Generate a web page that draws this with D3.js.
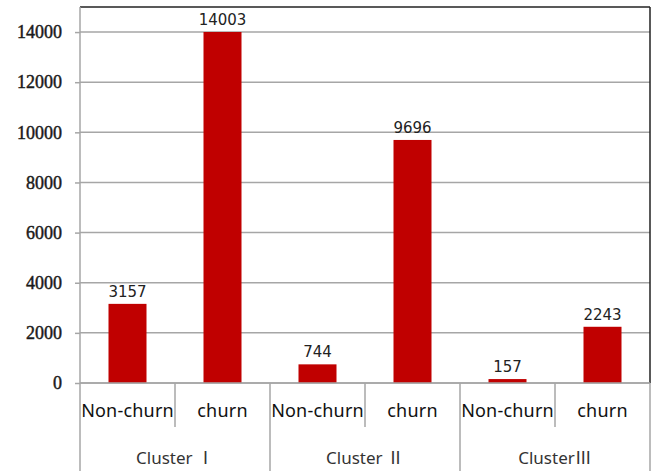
<!DOCTYPE html>
<html>
<head>
<meta charset="utf-8">
<script src="https://cdn.jsdelivr.net/npm/d3@7"></script>
<style>
  body { margin: 0; background: #fff; }
  svg { display: block; }
</style>
</head>
<body>
<div id="chart"></div>
<script>
// data
const groups = ["Cluster Ⅰ", "Cluster Ⅱ", "ClusterⅢ"];
const subCats = ["Non-churn", "churn"];
const values = [3157, 14003, 744, 9696, 157, 2243];
const yTicks = [0, 2000, 4000, 6000, 8000, 10000, 12000, 14000];

const W = 654, H = 471;
const margin = {top: 7, right: 4, bottom: 88, left: 80};
const width = W - margin.left - margin.right;
const height = H - margin.top - margin.bottom;

const svg = d3.select("#chart").append("svg")
    .attr("width", W)
    .attr("height", H);

const g = svg.append("g")
    .attr("transform", `translate(${margin.left},${margin.top})`);

// build one row per bar
let rows = [];
groups.forEach((gr, gi) => {
    subCats.forEach((s, si) => {
        rows.push({key: gi + "-" + si, group: gr, sub: s, value: values[gi * 2 + si]});
    });
});

const x = d3.scaleBand()
    .domain(rows.map(d => d.key))
    .range([0, width])
    .paddingInner(0.6)
    .paddingOuter(0.3);

const xStep = x.step();

const y = d3.scaleLinear()
    .domain([0, 15000])
    .range([height, 0]);

// gridlines
g.append("g")
    .selectAll("line")
    .data(yTicks)
    .enter()
    .append("line")
    .attr("x1", 0)
    .attr("x2", width)
    .attr("y1", d => y(d))
    .attr("y2", d => y(d))
    .attr("stroke", "#a6a6a6")
    .attr("stroke-width", 1.5);

// y axis
const yAxis = d3.axisLeft(y).tickValues(yTicks).tickFormat(d3.format("d")).tickSize(5).tickPadding(13);
const yg = g.append("g").call(yAxis);
yg.select(".domain").remove();
yg.selectAll(".tick line").attr("stroke", "#a6a6a6").attr("stroke-width", 1.5);
yg.selectAll(".tick text")
    .attr("font-family", "Liberation Serif, serif")
    .attr("font-size", 18)
    .attr("fill", "#1a1a1a")
    .attr("stroke", "#1a1a1a")
    .attr("stroke-width", 0.45);

// bars
g.selectAll(".bar")
    .data(rows)
    .enter()
    .append("rect")
    .attr("class", "bar")
    .attr("x", d => x(d.key))
    .attr("y", d => y(d.value))
    .attr("width", x.bandwidth())
    .attr("height", d => height - y(d.value))
    .attr("fill", "#c00000");

// value labels
g.selectAll(".val")
    .data(rows)
    .enter()
    .append("text")
    .attr("class", "val")
    .attr("x", d => x(d.key) + x.bandwidth() / 2)
    .attr("y", d => y(d.value) - 7)
    .attr("text-anchor", "middle")
    .attr("font-family", "DejaVu Sans, sans-serif")
    .attr("font-size", 15)
    .attr("fill", "#222")
    .text(d => d.value);

// plot frame
g.append("line").attr("x1", 0).attr("x2", width).attr("y1", 0).attr("y2", 0)
    .attr("stroke", "#222").attr("stroke-width", 1.5);
g.append("line").attr("x1", width).attr("x2", width).attr("y1", 0).attr("y2", height)
    .attr("stroke", "#222").attr("stroke-width", 1.5);

// category axis
const axisColor = "#a6a6a6";
g.append("line").attr("x1", 0).attr("x2", width).attr("y1", height).attr("y2", height)
    .attr("stroke", axisColor).attr("stroke-width", 1.5);
g.append("line").attr("x1", 0).attr("x2", 0).attr("y1", 0).attr("y2", H - margin.top)
    .attr("stroke", axisColor).attr("stroke-width", 1.5);

// separators: short between sub categories, long between groups
g.selectAll(".sep")
    .data(rows)
    .enter()
    .append("line")
    .attr("class", "sep")
    .attr("x1", (d, i) => (i + 1) * xStep)
    .attr("x2", (d, i) => (i + 1) * xStep)
    .attr("y1", height)
    .attr("y2", (d, i) => (i % 2 === 0) ? height + 44 : H - margin.top)
    .attr("stroke", axisColor)
    .attr("stroke-width", 1.5);

g.selectAll(".sub")
    .data(rows)
    .enter()
    .append("text")
    .attr("class", "sub")
    .attr("x", d => x(d.key) + x.bandwidth() / 2)
    .attr("y", height + 34)
    .attr("text-anchor", "middle")
    .attr("font-family", "Noto Sans, sans-serif")
    .attr("font-size", 18)
    .attr("letter-spacing", 0.2)
    .attr("fill", "#111")
    .text(d => d.sub);

g.selectAll(".grp")
    .data(groups)
    .enter()
    .append("text")
    .attr("class", "grp")
    .attr("x", (d, i) => (i * 2 + 1) * xStep)
    .attr("y", height + 81)
    .attr("text-anchor", "middle")
    .attr("font-family", "Noto Sans, Noto Sans CJK SC, sans-serif")
    .attr("font-size", 17)
    .attr("fill", "#333")
    .text(d => d);
</script>
</body>
</html>
